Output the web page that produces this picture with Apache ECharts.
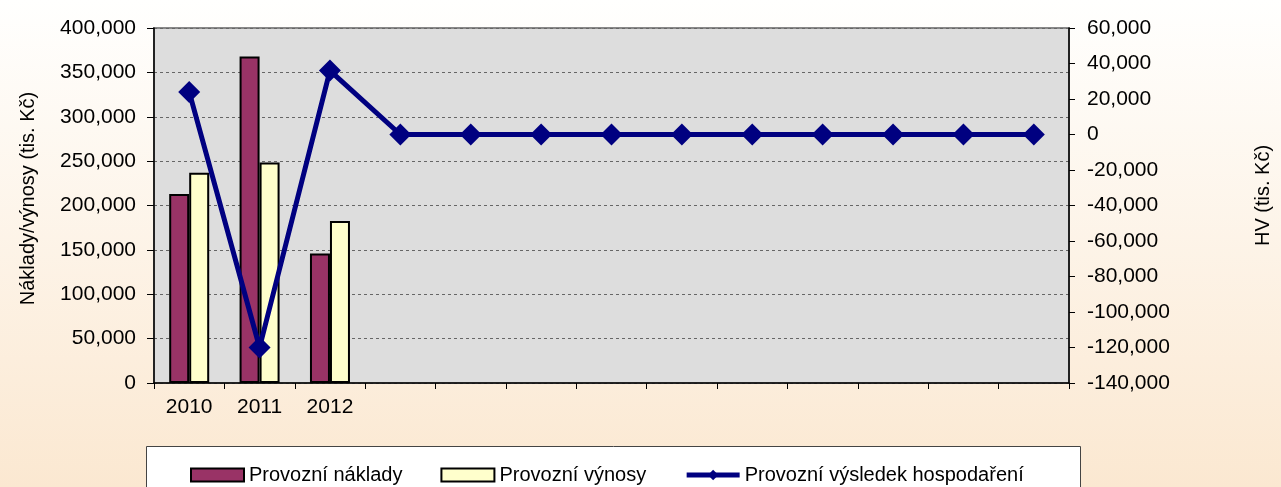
<!DOCTYPE html>
<html>
<head>
<meta charset="utf-8">
<script src="https://cdn.jsdelivr.net/npm/echarts@6/dist/echarts.min.js"></script>
<style>
html,body{margin:0;padding:0;}
#c{width:1281px;height:487px;}
</style>
</head>
<body>
<div id="c"></div>
<script>
const categories = ['2010','2011','2012','','','','','','','','','',''];
const naklady = [213000, 368000, 146000];
const vynosy = [237000, 248500, 182500];
const hv = [24000, -120000, 36000, 0, 0, 0, 0, 0, 0, 0, 0, 0, 0];
const seriesNames = ['Provozní náklady', 'Provozní výnosy', 'Provozní výsledek hospodaření'];
const leftTitle = 'Náklady/výnosy (tis. Kč)';
const rightTitle = 'HV (tis. Kč)';

const FONT = "'Liberation Sans', Arial, sans-serif";
const fmt = v => v.toLocaleString('en-US');

const chart = echarts.init(document.getElementById('c'));
chart.setOption({
  animation: false,
  backgroundColor: {
    type: 'linear', x: 0, y: 0, x2: 0, y2: 1,
    colorStops: [{offset: 0, color: '#fffffe'}, {offset: 1, color: '#fbe8d1'}]
  },
  textStyle: {fontFamily: FONT},
  graphic: [{
    type: 'rect', left: 146, top: 446, z: 0,
    shape: {width: 934, height: 60},
    style: {fill: '#ffffff', stroke: '#444444', lineWidth: 1}
  }],
  legend: {
    left: 185, top: 460, itemGap: 38, itemWidth: 53, itemHeight: 13,
    textStyle: {fontSize: 20, color: '#000', fontFamily: FONT},
    data: [
      {name: seriesNames[0], icon: 'rect'},
      {name: seriesNames[1], icon: 'rect'},
      {name: seriesNames[2], lineStyle: {width: 5}, itemStyle: {color: '#000080'}}
    ]
  },
  grid: {
    left: 154, right: 208, top: 28, bottom: 104,
    show: true, backgroundColor: '#dddddd', borderColor: '#888888', borderWidth: 2
  },
  xAxis: {
    type: 'category', data: categories, boundaryGap: true,
    axisLine: {lineStyle: {color: '#000', width: 1.5}},
    axisTick: {show: true, length: 6, lineStyle: {color: '#000'}},
    axisLabel: {color: '#000', fontSize: 21, margin: 14, fontFamily: FONT, interval: 0}
  },
  yAxis: [{
    type: 'value', min: 0, max: 400000, interval: 50000, position: 'left',
    name: leftTitle, nameLocation: 'middle', nameRotate: 90, nameGap: 116,
    nameTextStyle: {fontSize: 20, color: '#000', fontFamily: FONT, padding: [0, 0, 0, 14]},
    axisLine: {show: true, lineStyle: {color: '#000', width: 1.5}},
    axisTick: {show: true, length: 7, lineStyle: {color: '#000'}},
    axisLabel: {color: '#000', fontSize: 21, margin: 18, formatter: fmt, fontFamily: FONT},
    splitLine: {show: true, lineStyle: {color: '#666666', type: [3, 3], width: 1}}
  }, {
    type: 'value', min: -140000, max: 60000, interval: 20000, position: 'right',
    name: rightTitle, nameLocation: 'middle', nameRotate: 90, nameGap: 184,
    nameTextStyle: {fontSize: 20, color: '#000', fontFamily: FONT, padding: [0, 0, 0, 20]},
    axisLine: {show: true, lineStyle: {color: '#000', width: 1.5}},
    axisTick: {show: true, length: 6, inside: false, lineStyle: {color: '#000'}},
    axisLabel: {color: '#000', fontSize: 21, margin: 18, formatter: fmt, fontFamily: FONT},
    splitLine: {show: false}
  }],
  series: [{
    name: seriesNames[0], type: 'bar', yAxisIndex: 0, data: naklady,
    barWidth: 20, barGap: '0%',
    itemStyle: {color: '#993366', borderColor: '#000', borderWidth: 2}
  }, {
    name: seriesNames[1], type: 'bar', yAxisIndex: 0, data: vynosy,
    barWidth: 20, barGap: '0%',
    itemStyle: {color: '#ffffcc', borderColor: '#000', borderWidth: 2}
  }, {
    name: seriesNames[2], type: 'line', yAxisIndex: 1, data: hv,
    symbol: 'diamond', symbolSize: 22,
    lineStyle: {color: '#000080', width: 5},
    itemStyle: {color: '#000080'},
    z: 5
  }]
});
</script>
</body>
</html>
